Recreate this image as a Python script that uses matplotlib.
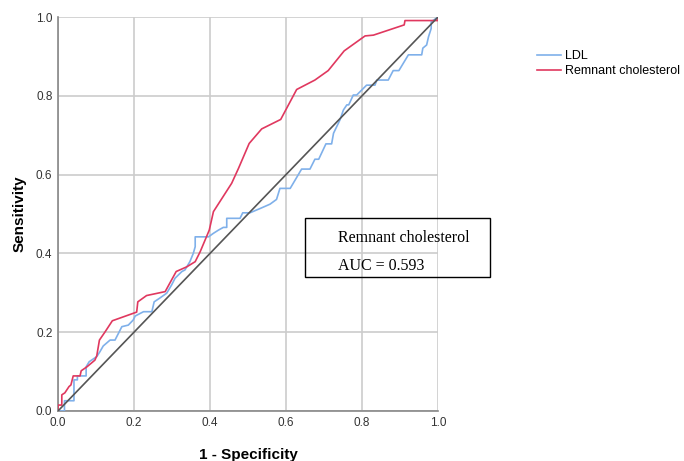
import numpy as np
import matplotlib
matplotlib.use("Agg")
from matplotlib import pyplot as plt
import matplotlib.patches as patches

# ROC curve points (1 - specificity, sensitivity)
rc_fpr = [0.0, 0.0, 0.01, 0.01, 0.018, 0.029, 0.034, 0.040, 0.058, 0.061, 0.076, 0.097,
          0.102, 0.109, 0.124, 0.143, 0.207, 0.210, 0.233, 0.282, 0.311, 0.339, 0.361,
          0.374, 0.398, 0.409, 0.457, 0.475, 0.503, 0.536, 0.586, 0.628, 0.676, 0.711,
          0.753, 0.808, 0.830, 0.911, 0.913, 1.0, 1.0]
rc_tpr = [0.0, 0.015, 0.015, 0.041, 0.046, 0.062, 0.066, 0.089, 0.089, 0.102, 0.112, 0.129,
          0.140, 0.180, 0.201, 0.229, 0.251, 0.277, 0.293, 0.303, 0.354, 0.366, 0.379,
          0.404, 0.459, 0.506, 0.578, 0.616, 0.679, 0.716, 0.740, 0.816, 0.840, 0.864,
          0.914, 0.952, 0.954, 0.980, 0.991, 0.991, 1.0]

ldl_fpr = [0.0, 0.017, 0.017, 0.042, 0.042, 0.051, 0.051, 0.074, 0.074, 0.082, 0.102, 0.110,
           0.119, 0.137, 0.150, 0.168, 0.185, 0.198, 0.203, 0.225, 0.247, 0.253, 0.267,
           0.286, 0.299, 0.308, 0.326, 0.334, 0.347, 0.356, 0.361, 0.361, 0.396, 0.409,
           0.422, 0.435, 0.444, 0.444, 0.479, 0.486, 0.505, 0.532, 0.558, 0.575, 0.584,
           0.611, 0.641, 0.663, 0.676, 0.686, 0.705, 0.720, 0.725, 0.742, 0.751, 0.760,
           0.765, 0.777, 0.786, 0.812, 0.834, 0.839, 0.869, 0.882, 0.897, 0.922, 0.957,
           0.960, 0.970, 0.975, 0.982, 0.982, 1.0]
ldl_tpr = [0.0, 0.0, 0.026, 0.026, 0.079, 0.079, 0.089, 0.089, 0.112, 0.125, 0.138, 0.150,
           0.165, 0.180, 0.180, 0.214, 0.218, 0.231, 0.241, 0.252, 0.252, 0.277, 0.286,
           0.299, 0.320, 0.337, 0.354, 0.358, 0.379, 0.400, 0.417, 0.442, 0.442, 0.451,
           0.459, 0.466, 0.466, 0.489, 0.489, 0.503, 0.503, 0.514, 0.525, 0.537, 0.565,
           0.565, 0.614, 0.614, 0.639, 0.639, 0.678, 0.678, 0.705, 0.739, 0.764, 0.777,
           0.777, 0.802, 0.802, 0.827, 0.827, 0.840, 0.840, 0.864, 0.864, 0.904, 0.904,
           0.921, 0.929, 0.950, 0.971, 0.988, 1.0]

ticks = [0.0, 0.2, 0.4, 0.6, 0.8, 1.0]
auc_label = "Remnant cholesterol"
auc_value = 0.593

plt.rcParams['font.family'] = ['Liberation Sans', 'DejaVu Sans']

fig = plt.figure(figsize=(6.84, 4.61), dpi=100)
ax = fig.add_axes([0.0848, 0.1085, 0.5556, 0.8546])

ax.plot(ldl_fpr, ldl_tpr, color='#7fb0ea', lw=1.2, label='LDL', zorder=3)
ax.plot(rc_fpr, rc_tpr, color='#e0385f', lw=1.2, label='Remnant cholesterol', zorder=4)
ax.plot([0, 1], [0, 1], color='#555555', lw=1.2, zorder=5)

ax.set_xlim(0, 1)
ax.set_ylim(0, 1)
ax.set_xticks(ticks)
ax.set_yticks(ticks)
ax.set_xticklabels([f"{t:.1f}" for t in ticks])
ax.set_yticklabels([f"{t:.1f}" for t in ticks])
ax.tick_params(length=0, labelsize=8.5, labelcolor='#333333', pad=4)
ax.grid(True, color='#cccccc', lw=1.2)
ax.set_axisbelow(True)
for s in ['top', 'right']:
    ax.spines[s].set_visible(False)
for s in ['left', 'bottom']:
    ax.spines[s].set_color('#888888')
    ax.spines[s].set_linewidth(1.2)

ax.set_xlabel("1 - Specificity", fontsize=11, fontweight='bold', labelpad=14)
ax.set_ylabel("Sensitivity", fontsize=11, fontweight='bold', labelpad=7)

fig.legend(loc='upper left', bbox_to_anchor=(0.776, 0.905), frameon=False,
           fontsize=9, handlelength=1.9, handletextpad=0.3, borderpad=0, labelspacing=0.25)

# annotation box with AUC
box = patches.Rectangle((305 / 684, 1 - 277 / 461), 185 / 684, 59 / 461,
                        transform=fig.transFigure, fill=False, edgecolor='black', lw=1.0)
fig.add_artist(box)
fig.text(338 / 684, 1 - 238 / 461, auc_label, family='Liberation Serif', fontsize=11.5,
         va='center', ha='left')
fig.text(338 / 684, 1 - 266 / 461, f"AUC = {auc_value}", family='Liberation Serif', fontsize=11.5,
         va='center', ha='left')

fig.savefig("out.png", dpi=100)
